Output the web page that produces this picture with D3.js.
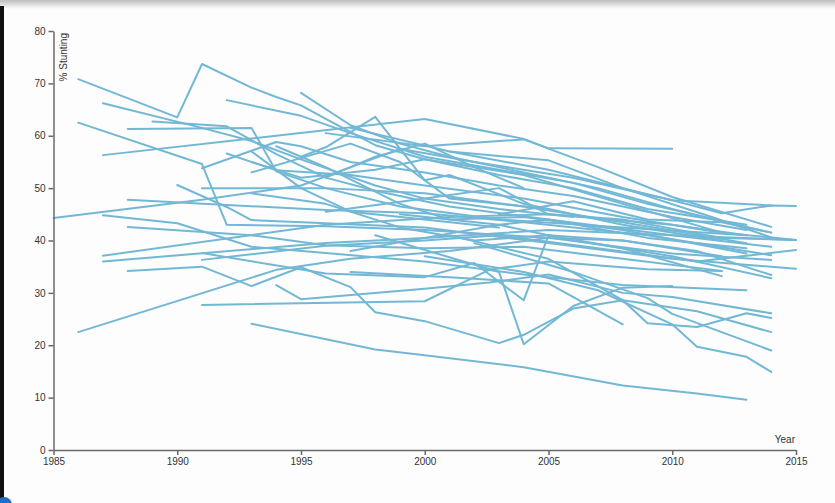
<!DOCTYPE html>
<html>
<head>
<meta charset="utf-8">
<script src="https://cdn.jsdelivr.net/npm/d3@7"></script>
<style>
  html, body { margin: 0; padding: 0; background: #fdfdfd; }
  svg { display: block; }
  .axis text { font-family: "Liberation Sans Narrow", "Liberation Sans", Arial, sans-serif; font-size: 10px; fill: #333; }
  .axis path, .axis line { stroke: #6a6a6a; stroke-width: 1.5; }
</style>
</head>
<body>
<svg id="chart" width="835" height="503"></svg>
<script>
// Axis ticks
const yearTicks = [1985, 1990, 1995, 2000, 2005, 2010, 2015];
const stuntingTicks = [0, 10, 20, 30, 40, 50, 60, 70, 80];

// Stunting prevalence (%) by survey year, one array per country
const s01 = [[1986,70.8],[1990,63.5],[1991,73.7],[1993,69.2],[1994,67.4],[1995,65.8],[1996,63.2],[1998,58.2],[2000,55.5],[2003,52.5],[2006,50],[2009,46],[2013,43]];
const s02 = [[1987,66.2],[1991,61.5],[1993,59],[1995,55.5],[1998,50.5],[2000,48],[2003,46],[2006,44.5]];
const s03 = [[1986,62.5],[1991,54.6],[1992,43.0],[1996,42.7],[2000,42],[2005,40.5],[2010,37.5],[2014,36.3]];
const s04 = [[1987,56.3],[2000,63.2],[2004,59.4],[2005,57.6],[2010,57.5]];
const s05 = [[1988,61.3],[1993,61.5],[1994,53.2],[1996,50],[1999,46.5],[2003,44],[2008,42.5],[2013,41]];
const s06 = [[1989,62.7],[1992,61.8],[1994,56.5],[1996,52],[1998,49.5],[2001,46.5],[2005,44],[2010,41],[2014,38.8]];
const s07 = [[1991,53.8],[1994,58.8],[1995,58],[1997,55],[2000,53],[2003,50.5],[2006,48.5],[2010,44.5],[2013,42]];
const s08 = [[1992,56.6],[1994,53.4],[1997,52.5],[2000,50.5],[2004,48],[2008,44.5],[2012,41.5],[2015,40.1]];
const s09 = [[1991,50],[1996,50],[2000,49],[2004,46.5],[2008,43.5],[2013,39.5]];
const s10 = [[1990,50.6],[1992,46.4],[1993,43.9],[1996,43.3],[2000,42.5],[2005,39.5],[2010,36.5],[2015,34.6]];
const s11 = [[1988,47.8],[1992,46.8],[1996,45.8],[2000,45.2],[2004,43.5],[2009,41],[2014,37.2]];
const s12 = [[1985,44.3],[1991,47.8],[1995,50.5],[1999,57.5],[2002,55],[2006,52],[2010,47.7],[2012,45.2],[2014,46.7],[2015,46.6]];
const s13 = [[1987,44.8],[1990,43.3],[1993,38.8],[1996,37.6],[2000,36],[2004,33.5],[2008,31.5],[2013,30.5]];
const s14 = [[1988,42.6],[1993,41],[1996,39.1],[2000,38.5],[2004,38.8],[2008,36.5],[2012,34.2]];
const s15 = [[1987,37.1],[1996,43],[2001,44.5],[2005,45],[2010,43],[2013,41]];
const s16 = [[1987,36],[1996,39.5],[2000,40.5],[2005,42],[2010,41],[2015,40.1]];
const s17 = [[1988,34.2],[1991,35],[1993,31.3],[1995,34.9],[1997,31.1],[1998,26.3],[2000,24.6],[2003,20.4],[2004,22],[2006,27],[2008,28.6],[2009,24.2],[2011,23.5],[2013,26.1],[2014,25.2]];
const s18 = [[1986,22.5],[1994,34.4],[1997,36.5],[2001,38],[2005,40.5],[2008,40],[2012,37]];
const s19 = [[1991,37.6],[1996,33.7],[2000,33],[2002,35.7],[2004,28.6],[2005,41],[2008,40],[2011,38],[2014,33.4]];
const s20 = [[1991,36.3],[1996,39],[2000,40],[2003,41],[2007,38.5],[2011,36],[2015,38.2]];
const s21 = [[1991,27.7],[2000,28.4],[2002.6,34.4],[2005,36],[2009,34.5],[2012,34.2]];
const s22 = [[1994,31.5],[1995,28.8],[2000,30.8],[2002.6,32],[2005,33.5],[2008,30],[2010,29.2],[2014,26.1]];
const s23 = [[1993,24.1],[1998,19.2],[2000,18.1],[2004,15.8],[2008,12.3],[2011,10.8],[2013,9.6]];
const s24 = [[1998,41],[2003,34],[2004,20.2],[2006,27.5],[2008,31],[2010,31.3]];
const s25 = [[2000,37],[2004,34],[2007,30.5],[2010,24],[2011,19.7],[2013,17.8],[2014,14.9]];
const s26 = [[2002,39.5],[2006,34],[2009,29],[2010,26],[2014,19.0]];
const s27 = [[2001,41],[2005,36.5],[2008,28.6],[2011,26.5],[2014,22.5]];
const s28 = [[1997,34],[2001,33],[2005,31.8],[2008,24]];
const s29 = [[1995,68.2],[1997,62],[1999,58.5],[2001,56],[2004,53],[2007,50],[2010,46],[2013,42.5]];
const s30 = [[1992,66.8],[1995,63.8],[1997,60.5],[2000,56],[2003,53.5],[2006,51],[2009,47],[2014,41.5]];
const s31 = [[1995,56],[1996,57.8],[1998,63.6],[2000,51.5],[2001,52.5],[2004,47],[2008,43],[2012,40]];
const s32 = [[1996,60.5],[2000,58],[2004,59.3],[2007,54],[2010,48.3],[2014,42.6]];
const s33 = [[1997,61.5],[2001,57],[2005,53.5],[2008,50],[2010,47.7],[2014,46.7]];
const s34 = [[2001,57],[2005,55.3],[2008,50],[2011.6,44.5],[2014,40.6]];
const s35 = [[1993,55],[1995,52],[1998,53.5],[2000,55.5],[2004,52.5],[2008,47],[2012,41.5]];
const s36 = [[1994,58],[1996,54],[1999,47],[2001,44],[2004,44.5],[2008,42],[2013,37.5]];
const s37 = [[1993,49],[1996,47],[1999,42.5],[2002,40],[2005,41],[2008,38.5],[2012,33.2]];
const s38 = [[1999,45],[2003,43],[2006,40],[2010,37],[2014,32.8]];
const s39 = [[1996,45.5],[2000,48],[2003,50],[2005,45],[2008,44],[2012,40.5],[2015,40.1]];
const s40 = [[1997,38],[2000,40.5],[2003,43],[2005,44],[2009,40.5],[2013,38.5]];
const s41 = [[2003,45],[2006,47.5],[2009,44],[2012,43.5],[2014,41.5]];
const s42 = [[1993,57],[1995,50],[1997,45.5],[2000,44],[2003,42.5]];
const s43 = [[1996,52],[1998,56],[2000,58.5],[2002,54],[2004,50]];
const s44 = [[1993,53],[1997,58.5],[1999,55],[2001,48],[2005,46]];

const countries = [s01,s02,s03,s04,s05,s06,s07,s08,s09,s10,s11,s12,s13,s14,s15,s16,s17,s18,s19,s20,
                   s21,s22,s23,s24,s25,s26,s27,s28,s29,s30,s31,s32,s33,s34,s35,s36,s37,s38,s39,s40,
                   s41,s42,s43,s44];

const svg = d3.select("#chart");
const W = 835, H = 503;

// page frame: soft top edge and dark left border
const defs = svg.append("defs");
const grad = defs.append("linearGradient").attr("id", "topShade").attr("x1", 0).attr("x2", 0).attr("y1", 0).attr("y2", 1);
grad.append("stop").attr("offset", "0%").attr("stop-color", "#bdbdbd");
grad.append("stop").attr("offset", "100%").attr("stop-color", "#fdfdfd");
svg.append("rect").attr("x", 0).attr("y", 0).attr("width", W).attr("height", 9).attr("fill", "url(#topShade)");
svg.append("rect").attr("x", 0).attr("y", 6).attr("width", 4).attr("height", H - 6).attr("fill", "#111");
svg.append("circle").attr("cx", 4).attr("cy", 505).attr("r", 8).attr("fill", "#1f6fc4");

const x = d3.scaleLinear().domain([1985, 2015]).range([53.5, 796]);
const y = d3.scaleLinear().domain([0, 80]).range([450, 31]);

const line = d3.line().x(d => x(d[0])).y(d => y(d[1]));

svg.append("g")
  .selectAll("path")
  .data(countries)
  .join("path")
  .attr("d", line)
  .attr("fill", "none")
  .attr("stroke", "#72b8d5")
  .attr("stroke-width", 2)
  .attr("stroke-linejoin", "round")
  .attr("stroke-linecap", "round");

svg.append("g").attr("class", "axis")
  .attr("transform", `translate(${x(1985)},0)`)
  .call(d3.axisLeft(y).tickValues(stuntingTicks).tickSize(5).tickSizeOuter(0).tickPadding(3));

svg.append("g").attr("class", "axis")
  .attr("transform", `translate(0,${y(0)})`)
  .call(d3.axisBottom(x).tickValues(yearTicks).tickFormat(d3.format("d")).tickSize(5).tickSizeOuter(0).tickPadding(3));

svg.append("text")
  .attr("transform", `translate(${x(1985) + 13},${y(80) + 2}) rotate(-90)`)
  .attr("text-anchor", "end")
  .style("font-family", "'Liberation Sans Narrow', 'Liberation Sans', Arial, sans-serif")
  .style("font-size", "10px")
  .attr("fill", "#333")
  .text("% Stunting");

svg.append("text")
  .attr("x", x(2015) - 1)
  .attr("y", y(0) - 7)
  .attr("text-anchor", "end")
  .style("font-family", "'Liberation Sans Narrow', 'Liberation Sans', Arial, sans-serif")
  .style("font-size", "10px")
  .attr("fill", "#333")
  .text("Year");
</script>
</body>
</html>
